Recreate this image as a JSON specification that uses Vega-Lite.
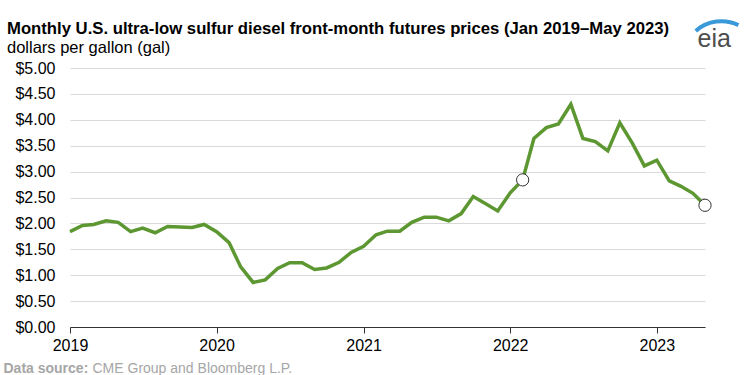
{
  "$schema": "https://vega.github.io/schema/vega-lite/v6.json",
  "autosize": "none",
  "width": 635,
  "height": 259,
  "padding": {"left": 70, "top": 68, "right": 45, "bottom": 48},
  "background": "white",
  "config": {
    "view": {"stroke": null},
    "font": "Liberation Sans"
  },
  "title": {
    "text": "Monthly U.S. ultra-low sulfur diesel front-month futures prices (Jan 2019–May 2023)",
    "subtitle": "dollars per gallon (gal)",
    "anchor": "start",
    "frame": "group",
    "dx": -63,
    "offset": -37,
    "font": "Liberation Sans",
    "fontSize": 16.7,
    "fontWeight": "bold",
    "color": "#000000",
    "subtitleFont": "Liberation Sans",
    "subtitleFontSize": 16.5,
    "subtitleColor": "#000000",
    "subtitlePadding": 2
  },
  "datasets": {
    "prices": [
      {"date": "2019-01-01", "price": 1.84},
      {"date": "2019-02-01", "price": 1.96},
      {"date": "2019-03-01", "price": 1.98},
      {"date": "2019-04-01", "price": 2.05},
      {"date": "2019-05-01", "price": 2.02},
      {"date": "2019-06-01", "price": 1.84},
      {"date": "2019-07-01", "price": 1.91},
      {"date": "2019-08-01", "price": 1.82},
      {"date": "2019-09-01", "price": 1.94},
      {"date": "2019-10-01", "price": 1.93},
      {"date": "2019-11-01", "price": 1.92},
      {"date": "2019-12-01", "price": 1.98},
      {"date": "2020-01-01", "price": 1.84},
      {"date": "2020-02-01", "price": 1.63},
      {"date": "2020-03-01", "price": 1.16},
      {"date": "2020-04-01", "price": 0.86},
      {"date": "2020-05-01", "price": 0.91},
      {"date": "2020-06-01", "price": 1.13},
      {"date": "2020-07-01", "price": 1.24},
      {"date": "2020-08-01", "price": 1.24},
      {"date": "2020-09-01", "price": 1.11},
      {"date": "2020-10-01", "price": 1.14},
      {"date": "2020-11-01", "price": 1.25},
      {"date": "2020-12-01", "price": 1.44},
      {"date": "2021-01-01", "price": 1.56},
      {"date": "2021-02-01", "price": 1.78},
      {"date": "2021-03-01", "price": 1.85},
      {"date": "2021-04-01", "price": 1.85},
      {"date": "2021-05-01", "price": 2.02},
      {"date": "2021-06-01", "price": 2.12},
      {"date": "2021-07-01", "price": 2.12},
      {"date": "2021-08-01", "price": 2.05},
      {"date": "2021-09-01", "price": 2.19},
      {"date": "2021-10-01", "price": 2.52},
      {"date": "2021-11-01", "price": 2.38},
      {"date": "2021-12-01", "price": 2.24},
      {"date": "2022-01-01", "price": 2.59},
      {"date": "2022-02-01", "price": 2.84},
      {"date": "2022-03-01", "price": 3.64},
      {"date": "2022-04-01", "price": 3.85},
      {"date": "2022-05-01", "price": 3.92},
      {"date": "2022-06-01", "price": 4.30},
      {"date": "2022-07-01", "price": 3.64},
      {"date": "2022-08-01", "price": 3.58},
      {"date": "2022-09-01", "price": 3.40},
      {"date": "2022-10-01", "price": 3.94},
      {"date": "2022-11-01", "price": 3.55},
      {"date": "2022-12-01", "price": 3.11},
      {"date": "2023-01-01", "price": 3.22},
      {"date": "2023-02-01", "price": 2.82},
      {"date": "2023-03-01", "price": 2.72},
      {"date": "2023-04-01", "price": 2.58},
      {"date": "2023-05-01", "price": 2.35}
    ],
    "markers": [
      {"date": "2022-02-01", "price": 2.84},
      {"date": "2023-05-01", "price": 2.35}
    ],
    "logo": [
      {"date": "2023-05-24", "price": 5.4, "label": "eia"}
    ],
    "swoosh": [
      {"date": "2023-06-11", "price": 5.15}
    ]
  },
  "encoding": {
    "x": {
      "field": "date",
      "type": "temporal",
      "scale": {
        "type": "utc",
        "domain": [
          {"year": 2019, "month": 1, "date": 1, "utc": true},
          {"year": 2023, "month": 5, "date": 1, "utc": true}
        ]
      },
      "axis": {
        "title": "CME Group and Bloomberg L.P.",
        "titleFont": "Liberation Sans",
        "titleFontSize": 14,
        "titleFontWeight": "normal",
        "titleColor": "#a6a6a6",
        "titleAnchor": "start",
        "titleAlign": "left",
        "titleBaseline": "alphabetic",
        "titleX": 22,
        "titleY": 45,
        "format": "%Y",
        "tickCount": "year",
        "grid": false,
        "domainColor": "#333333",
        "domainWidth": 1,
        "tickColor": "#333333",
        "tickSize": 6,
        "labelFont": "Liberation Sans",
        "labelFontSize": 16,
        "labelColor": "#000000",
        "labelPadding": 4,
        "labelFlush": false
      }
    },
    "y": {
      "field": "price",
      "type": "quantitative",
      "scale": {"domain": [0, 5]},
      "axis": {
        "title": "Data source:",
        "titleFont": "Liberation Sans",
        "titleFontSize": 14,
        "titleFontWeight": "bold",
        "titleColor": "#a6a6a6",
        "titleAngle": 0,
        "titleAnchor": "start",
        "titleAlign": "left",
        "titleBaseline": "alphabetic",
        "titleX": -67,
        "titleY": 304,
        "values": [0, 0.5, 1, 1.5, 2, 2.5, 3, 3.5, 4, 4.5, 5],
        "format": "$.2f",
        "domain": false,
        "ticks": false,
        "grid": true,
        "gridColor": "#d9d9d9",
        "gridWidth": 1,
        "labelFont": "Liberation Sans",
        "labelFontSize": 16,
        "labelColor": "#000000",
        "labelPadding": 15
      }
    }
  },
  "layer": [
    {
      "data": {"name": "prices"},
      "mark": {"type": "line", "color": "#5d9732", "strokeWidth": 3.5, "strokeJoin": "miter"}
    },
    {
      "data": {"name": "markers"},
      "mark": {"type": "point", "filled": true, "fill": "white", "stroke": "#333333", "strokeWidth": 1, "size": 150, "opacity": 1}
    },
    {
      "data": {"name": "swoosh"},
      "mark": {"type": "arc", "innerRadius": 37, "outerRadius": 41, "theta": -0.72, "theta2": 0.45, "color": "#3a9ad9", "clip": false}
    },
    {
      "data": {"name": "logo"},
      "mark": {"type": "text", "fontSize": 25, "font": "Liberation Sans", "color": "#4d4d4d", "align": "center", "baseline": "alphabetic", "clip": false},
      "encoding": {"text": {"field": "label"}}
    }
  ]
}
